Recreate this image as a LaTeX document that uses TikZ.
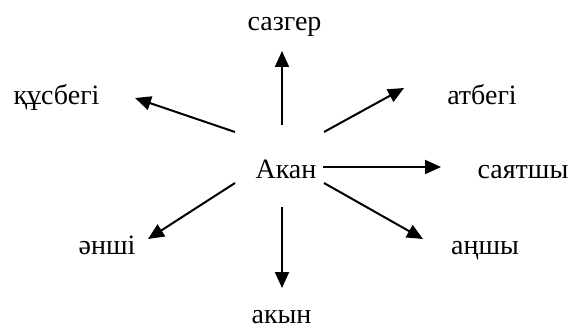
\documentclass[tikz,border=0pt]{standalone}
\usepackage{fontspec}
\setmainfont{Liberation Serif}
\usetikzlibrary{arrows.meta}
\begin{document}
\begin{tikzpicture}[x=1pt,y=-1pt,
  word/.style={anchor=base,inner sep=0pt,font=\fontsize{28}{32}\selectfont},
  ray/.style={line width=2pt,-{Triangle[length=16pt,width=14pt]}}]
\useasboundingbox (0,0) rectangle (576,329);
\node[word] (center) at (286,178) {Акан};
\node[word] (sazger) at (284.5,31) {сазгер};
\node[word] (kusbegi) at (56.5,105) {құсбегі};
\node[word] (atbegi) at (482,105) {атбегі};
\node[word] (sayatshy) at (523,178) {саятшы};
\node[word] (enshi) at (107,254) {әнші};
\node[word] (anshy) at (485,254) {аңшы};
\node[word] (akyn) at (281.5,323) {акын};
% arrow ends
\coordinate (t1) at (282,125); \coordinate (h1) at (282,51);
\coordinate (t2) at (235,132); \coordinate (h2) at (135,98);
\coordinate (t3) at (324,132); \coordinate (h3) at (404,88);
\coordinate (t4) at (323,167); \coordinate (h4) at (441,167);
\coordinate (t5) at (235,183); \coordinate (h5) at (148,239);
\coordinate (t6) at (282,207); \coordinate (h6) at (282,288);
\coordinate (t7) at (324,183); \coordinate (h7) at (423,239);
\draw[ray] (t1) -- (h1);
\draw[ray] (t2) -- (h2);
\draw[ray] (t3) -- (h3);
\draw[ray] (t4) -- (h4);
\draw[ray] (t5) -- (h5);
\draw[ray] (t6) -- (h6);
\draw[ray] (t7) -- (h7);
\end{tikzpicture}
\end{document}
